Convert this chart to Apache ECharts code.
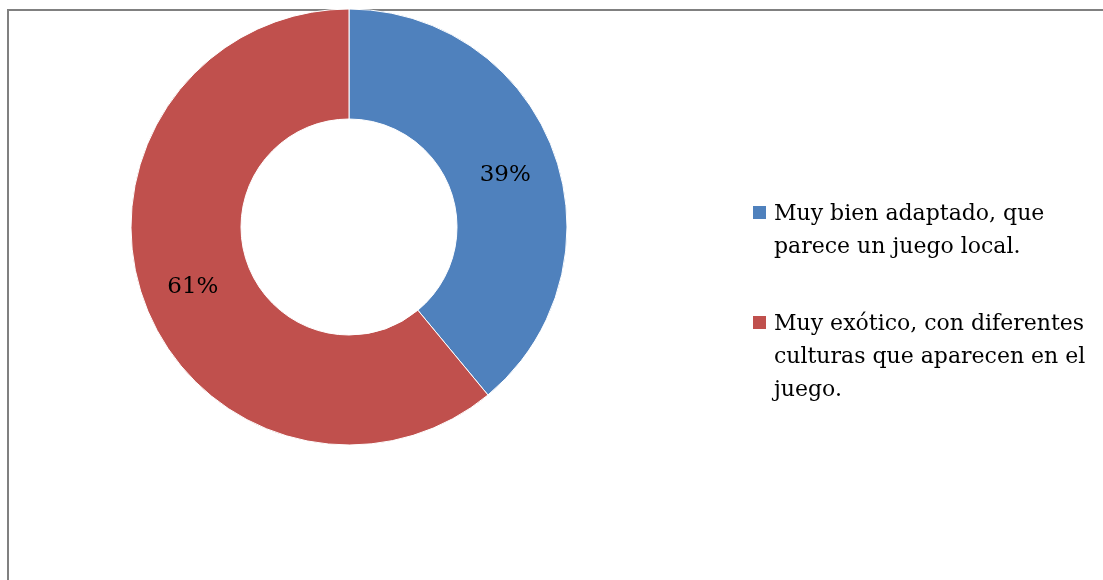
<!DOCTYPE html>
<html>
<head>
<meta charset="utf-8">
<script src="https://cdn.jsdelivr.net/npm/echarts@6/dist/echarts.min.js"></script>
<style>
  html, body { margin: 0; padding: 0; background: #fff; }
  #chart { width: 1103px; height: 580px; }
</style>
</head>
<body>
<div id="chart"></div>
<script>
// Survey answers and their shares (percent)
const categories = [
  'Muy bien adaptado, que parece un juego local.',
  'Muy exótico, con diferentes culturas que aparecen en el juego.'
];
const legendLines = [
  ['Muy bien adaptado, que', 'parece un juego local.'],
  ['Muy exótico, con diferentes', 'culturas que aparecen en el', 'juego.']
];
const values = [39, 61];
const colors = ['#4F81BD', '#C0504D'];

const FONT = '"DejaVu Serif", serif';

const chart = echarts.init(document.getElementById('chart'), null, { renderer: 'canvas' });

// Legend drawn as graphic items so the swatch sits beside the first text line
const legendTop = [203, 313];
const legendGraphics = [];
categories.forEach((name, i) => {
  legendGraphics.push({
    type: 'rect',
    shape: { x: 753, y: legendTop[i] + 3, width: 13, height: 13 },
    style: { fill: colors[i] }
  });
  legendGraphics.push({
    type: 'text',
    x: 774,
    y: legendTop[i] - 5,
    style: {
      text: legendLines[i].join('\n'),
      font: '22px ' + FONT,
      lineHeight: 33,
      fill: '#000'
    }
  });
});

chart.setOption({
  animation: false,
  color: colors,
  graphic: [
    {
      type: 'rect',
      shape: { x: 8, y: 10, width: 1300, height: 800 },
      style: { fill: null, stroke: '#808080', lineWidth: 2 }
    }
  ].concat(legendGraphics),
  series: [{
    type: 'pie',
    center: [349, 227],
    radius: [108, 218],
    startAngle: 90,
    clockwise: true,
    avoidLabelOverlap: false,
    itemStyle: { borderColor: '#fff', borderWidth: 1 },
    label: {
      show: true,
      position: 'inside',
      formatter: '{c}%',
      color: '#000',
      fontFamily: FONT,
      fontSize: 23,
      offset: [0, 4]
    },
    labelLine: { show: false },
    emphasis: { disabled: true },
    data: categories.map((name, i) => ({ name, value: values[i] }))
  }]
});
</script>
</body>
</html>
